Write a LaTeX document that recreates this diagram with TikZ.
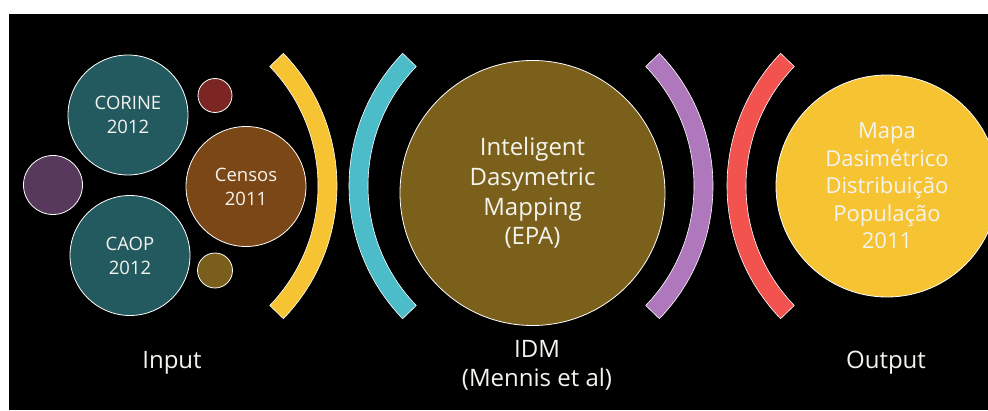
\documentclass[tikz,border=0pt]{standalone}
\usepackage{fontspec}
\setmainfont{Open Sans}
\definecolor{teal}{HTML}{235A5F}
\definecolor{plum}{HTML}{573A5B}
\definecolor{darkred}{HTML}{7B2623}
\definecolor{brown}{HTML}{7B4717}
\definecolor{olive}{HTML}{7A5E1B}
\definecolor{epa}{HTML}{7B601C}
\definecolor{yel}{HTML}{F6C333}
\definecolor{cyanb}{HTML}{4CBCC8}
\definecolor{purb}{HTML}{AF78BD}
\definecolor{redb}{HTML}{F2534F}
\definecolor{txt}{HTML}{F4F4EE}
\begin{document}
\begin{tikzpicture}[x=1pt,y=1pt,
  bub/.style={circle, draw=white, line width=0.8pt, inner sep=0pt, text=txt, align=center},
  small/.style={bub, font=\fontsize{18.5}{24}\selectfont},
  band/.style={draw=white, line width=0.6pt},
  lbl/.style={text=txt, align=center, font=\fontsize{24}{29}\selectfont}]
\fill[white] (0,0) rectangle (988,410);
\fill[black] (9,0) rectangle (988,396);
\useasboundingbox (0,0) rectangle (988,410);
% input bubbles
\node[small, fill=teal, minimum size=120pt] (corine) at (128,295) {CORINE\\2012};
\node[bub, fill=plum, minimum size=59pt] (plum) at (53,225) {};
\node[small, fill=teal, minimum size=120pt] (caop) at (130,154.5) {CAOP\\2012};
\node[small, fill=brown, minimum size=120pt] (censos) at (246,223.5) {Censos\\2011};
\node[bub, fill=darkred, minimum size=34pt] (dr) at (215,314.5) {};
\node[bub, fill=olive, minimum size=35pt] (ol) at (215,139.5) {};
% bands
\draw[band, fill=yel] ([shift={(44:191pt)}]146,224) arc[start angle=44, end angle=-44, radius=191pt] -- ++(136:19pt) arc[start angle=-44, end angle=44, radius=172pt] -- cycle;
\draw[band, fill=cyanb] ([shift={(136:191pt)}]540,224) arc[start angle=136, end angle=224, radius=191pt] -- ++(44:19pt) arc[start angle=224, end angle=136, radius=172pt] -- cycle;
\draw[band, fill=purb] ([shift={(44:191pt)}]522,224) arc[start angle=44, end angle=-44, radius=191pt] -- ++(136:19pt) arc[start angle=-44, end angle=44, radius=172pt] -- cycle;
\draw[band, fill=redb] ([shift={(136:191pt)}]918,224) arc[start angle=136, end angle=224, radius=191pt] -- ++(44:19pt) arc[start angle=224, end angle=136, radius=172pt] -- cycle;
% IDM
\node[bub, fill=epa, minimum size=265pt, font=\fontsize{24}{29.7}\selectfont] (idm) at (532.5,217) {Inteligent\\Dasymetric\\Mapping\\(EPA)};
% output
\node[bub, fill=yel, minimum size=222pt, font=\fontsize{22}{27.5}\selectfont] (out) at (887,224) {Mapa\\Dasimétrico\\Distribuição\\População\\2011};
% labels
\node[lbl] (input) at (172,47) {Input};
\node[lbl] (idml) at (537,44.5) {IDM\\(Mennis et al)};
\node[lbl] (outl) at (886,47) {Output};
\end{tikzpicture}
\end{document}
